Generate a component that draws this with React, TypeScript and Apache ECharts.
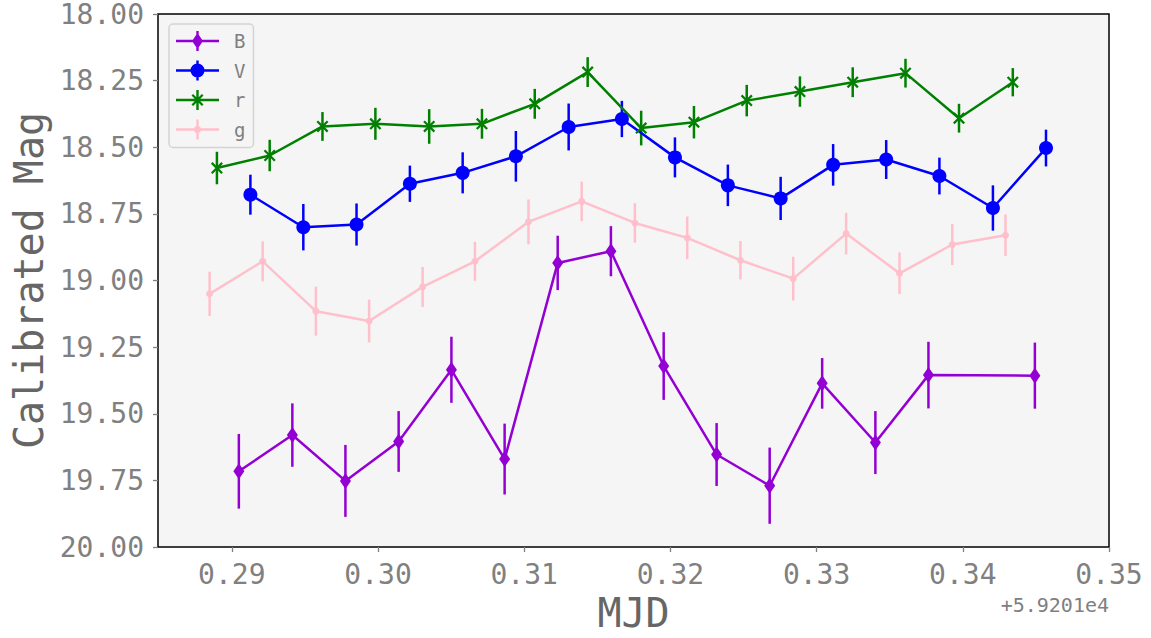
import React, { useEffect, useRef } from "react";
import * as echarts from "echarts";

// ---- data (MJD offset from 59201, calibrated magnitude, 1-sigma error) ----
const mjdB = [0.29048, 0.29414, 0.29777, 0.30141, 0.30502, 0.30866, 0.31229, 0.31593, 0.31954, 0.32316, 0.32679, 0.33038, 0.33402, 0.33765, 0.34493];
const magB = [19.716, 19.58, 19.752, 19.604, 19.335, 19.67, 18.934, 18.89, 19.321, 19.653, 19.77, 19.386, 19.608, 19.355, 19.357];
const errB = [0.14, 0.119, 0.135, 0.114, 0.124, 0.133, 0.102, 0.094, 0.127, 0.118, 0.143, 0.095, 0.118, 0.125, 0.124];

const mjdV = [0.29127, 0.29489, 0.29853, 0.30218, 0.30579, 0.30943, 0.31304, 0.31668, 0.32031, 0.32393, 0.32754, 0.33113, 0.33476, 0.3384, 0.34206, 0.34569];
const magV = [18.678, 18.8, 18.79, 18.637, 18.596, 18.534, 18.424, 18.394, 18.538, 18.643, 18.692, 18.566, 18.546, 18.608, 18.728, 18.503];
const errV = [0.075, 0.087, 0.079, 0.068, 0.077, 0.095, 0.088, 0.068, 0.075, 0.078, 0.081, 0.078, 0.073, 0.069, 0.085, 0.069];

const mjdR = [0.28898, 0.29259, 0.2962, 0.29982, 0.3035, 0.30711, 0.31072, 0.31434, 0.318, 0.32161, 0.32522, 0.32886, 0.33247, 0.33608, 0.33974, 0.34342];
const magR = [18.578, 18.531, 18.422, 18.412, 18.422, 18.412, 18.337, 18.218, 18.428, 18.406, 18.325, 18.291, 18.256, 18.222, 18.391, 18.256];
const errR = [0.061, 0.059, 0.054, 0.06, 0.065, 0.056, 0.056, 0.056, 0.065, 0.061, 0.059, 0.057, 0.056, 0.054, 0.054, 0.053];

const mjdG = [0.28848, 0.29211, 0.29575, 0.29939, 0.30305, 0.30663, 0.31029, 0.31393, 0.31757, 0.32115, 0.32479, 0.3284, 0.33202, 0.33567, 0.33928, 0.34292];
const magG = [19.05, 18.928, 19.115, 19.152, 19.024, 18.928, 18.78, 18.703, 18.784, 18.84, 18.924, 18.993, 18.824, 18.973, 18.865, 18.83];
const errG = [0.083, 0.075, 0.092, 0.08, 0.075, 0.073, 0.084, 0.074, 0.074, 0.08, 0.072, 0.082, 0.078, 0.078, 0.077, 0.078];

const bandNames = ["B", "V", "r", "g"];
const xTicks = [0.29, 0.3, 0.31, 0.32, 0.33, 0.34, 0.35];
const xMin = 0.28495;
const xMax = 0.35;
const yMin = 18;
const yMax = 20;
const yStep = 0.25;
const xOffsetText = "+5.9201e4";

const MONO = "'DejaVu Sans Mono', monospace";

const bands = [
  { name: "B", x: mjdB, y: magB, e: errB, color: "#9400D3" },
  { name: "V", x: mjdV, y: magV, e: errV, color: "#0000FF" },
  { name: "r", x: mjdR, y: magR, e: errR, color: "#008000" },
  { name: "g", x: mjdG, y: magG, e: errG, color: "#FFC0CB" },
];

const X_MARK = "path://M0,1.6 L1.6,0 L12,10.4 L10.4,12 Z M10.4,0 L12,1.6 L1.6,12 L0,10.4 Z";

const markerFor: Record<string, any> = {
  B: { symbol: "diamond", symbolSize: [11, 16] },
  V: { symbol: "circle", symbolSize: 14 },
  r: { symbol: X_MARK, symbolSize: 12 },
  g: { symbol: "circle", symbolSize: 7 },
};

const LINE = "M0,8.8 L43,8.8 L43,11.2 L0,11.2 Z M20.3,0 L22.7,0 L22.7,20 L20.3,20 Z ";
const legendIcons: Record<string, string> = {
  B: "path://" + LINE + "M21.5,2 L27,10 L21.5,18 L16,10 Z",
  V: "path://" + LINE + "M14.5,10 A7,7 0 1,1 28.5,10 A7,7 0 1,1 14.5,10 Z",
  r: "path://" + LINE + "M15.5,5.6 L17.1,4 L27.5,14.4 L25.9,16 Z M25.9,4 L27.5,5.6 L17.1,16 L15.5,14.4 Z",
  g: "path://" + LINE + "M18,10 A3.5,3.5 0 1,1 25,10 A3.5,3.5 0 1,1 18,10 Z",
};

export default function App() {
  const ref = useRef<HTMLDivElement>(null);

  useEffect(() => {
    if (!ref.current) return;
    const chart = echarts.init(ref.current, undefined, { renderer: "svg" });

    const errorSeries = bands.map((b) => ({
      name: b.name + " err",
      type: "custom",
      z: 1,
      silent: true,
      encode: { x: 0, y: 1 },
      data: b.x.map((x, i) => [x, b.y[i], b.e[i]]),
      renderItem: (params: any, api: any) => {
        const x = api.value(0);
        const y = api.value(1);
        const e = api.value(2);
        const p1 = api.coord([x, y - e]);
        const p2 = api.coord([x, y + e]);
        return {
          type: "line",
          shape: { x1: p1[0], y1: p1[1], x2: p2[0], y2: p2[1] },
          style: { stroke: b.color, lineWidth: 2.5 },
        };
      },
    }));

    const lineSeries = bands.map((b) => ({
      name: b.name,
      type: "line",
      z: 3,
      data: b.x.map((x, i) => [x, b.y[i]]),
      symbol: markerFor[b.name].symbol,
      symbolSize: markerFor[b.name].symbolSize,
      showSymbol: true,
      showAllSymbol: true,
      lineStyle: { color: b.color, width: 2.5 },
      itemStyle: { color: b.color, borderWidth: 0 },
      emphasis: { disabled: true },
    }));

    chart.setOption({
      animation: false,
      backgroundColor: "#ffffff",
      grid: {
        left: 158,
        top: 14,
        width: 951,
        height: 534,
        show: true,
        backgroundColor: "#f5f5f5",
        borderColor: "#000000",
        borderWidth: 1.5,
      },
      legend: {
        orient: "vertical",
        left: 169,
        top: 24,
        padding: [7, 8, 8, 7],
        itemWidth: 43,
        itemHeight: 20,
        itemGap: 9.5,
        backgroundColor: "#f5f5f5",
        borderColor: "#d4d4d4",
        borderWidth: 1.5,
        borderRadius: 4,
        selectedMode: false,
        itemStyle: { borderWidth: 0 },
        textStyle: {
          fontFamily: MONO,
          fontSize: 19,
          color: "#808080",
          padding: [0, 0, 0, 10],
        },
        data: bandNames.map((n) => ({ name: n, icon: legendIcons[n] })),
      },
      xAxis: {
        type: "value",
        min: xMin,
        max: xMax,
        name: "MJD",
        nameLocation: "middle",
        nameGap: 46,
        nameTextStyle: { fontFamily: MONO, fontSize: 40, color: "#666666" },
        axisLine: { show: false },
        splitLine: { show: false },
        axisTick: {
          show: true,
          length: 5,
          customValues: xTicks,
          lineStyle: { color: "#808080", width: 1.3 },
        },
        axisLabel: {
          customValues: xTicks,
          formatter: (v: number) => v.toFixed(2),
          fontFamily: MONO,
          fontSize: 28,
          color: "#808080",
          margin: 13,
        },
      },
      yAxis: {
        type: "value",
        inverse: true,
        min: yMin,
        max: yMax,
        interval: yStep,
        name: "Calibrated Mag",
        nameLocation: "middle",
        nameRotate: 90,
        nameGap: 109,
        nameTextStyle: { fontFamily: MONO, fontSize: 40, color: "#666666" },
        axisLine: { show: false },
        splitLine: { show: false },
        axisTick: { show: true, length: 5, lineStyle: { color: "#808080", width: 1.3 } },
        axisLabel: {
          formatter: (v: number) => v.toFixed(2),
          fontFamily: MONO,
          fontSize: 28,
          color: "#808080",
          margin: 14,
          showMinLabel: true,
          showMaxLabel: true,
        },
      },
      graphic: [
        {
          type: "text",
          right: 42,
          top: 595,
          style: {
            text: xOffsetText,
            font: "20px " + MONO,
            fill: "#808080",
          },
        },
      ],
      series: [...errorSeries, ...lineSeries],
    });

    return () => chart.dispose();
  }, []);

  return (
    <div
      ref={ref}
      style={{ position: "fixed", left: 0, top: 0, width: 1151, height: 638 }}
    />
  );
}
